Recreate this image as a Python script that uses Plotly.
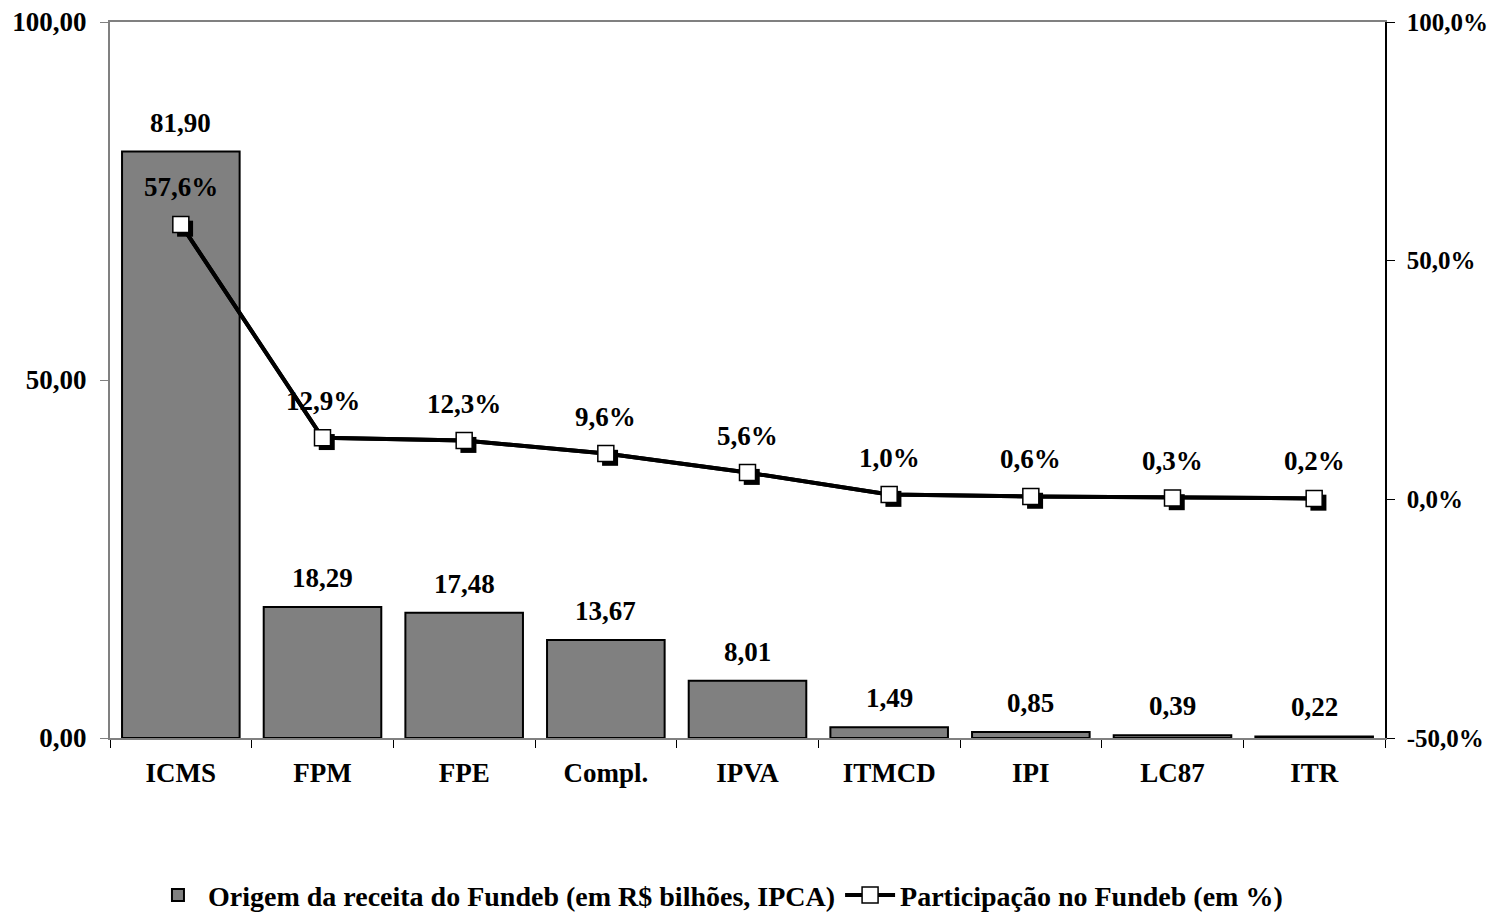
import plotly.graph_objects as go

categorias = ["ICMS", "FPM", "FPE", "Compl.", "IPVA", "ITMCD", "IPI", "LC87", "ITR"]
receita = [81.90, 18.29, 17.48, 13.67, 8.01, 1.49, 0.85, 0.39, 0.22]
participacao = [57.6, 12.9, 12.3, 9.6, 5.6, 1.0, 0.6, 0.3, 0.2]

y_left_ticks = [0, 50, 100]
y_left_text = ["0,00", "50,00", "100,00"]
y_right_ticks = [-50, 0, 50, 100]
y_right_text = ["-50,0%", "0,0%", "50,0%", "100,0%"]

FONT = "Liberation Serif"
FS = 27
pos = list(range(len(categorias)))


def br(v, nd):
    return f"{v:.{nd}f}".replace(".", ",")


fig = go.Figure()

fig.add_trace(go.Bar(
    x=pos, y=receita, width=0.83,
    name="Origem da receita do Fundeb (em R$ bilhões, IPCA)",
    marker=dict(color="#808080", line=dict(color="black", width=2)),
    hoverinfo="skip",
))

fig.add_trace(go.Scatter(
    x=pos, y=participacao, yaxis="y2", mode="lines",
    line=dict(color="black", width=4),
    showlegend=False, hoverinfo="skip",
))

# shadow of the markers
dx, dy = 0.03, 0.9
fig.add_trace(go.Scatter(
    x=[p + dx for p in pos], y=[v - dy for v in participacao], yaxis="y2",
    mode="markers",
    marker=dict(symbol="square", size=16, color="black", line=dict(width=0)),
    showlegend=False, hoverinfo="skip",
))

fig.add_trace(go.Scatter(
    x=pos, y=participacao, yaxis="y2", mode="lines+markers",
    name="Participação no Fundeb (em %)",
    line=dict(color="black", width=4),
    marker=dict(symbol="square", size=16, color="white",
                line=dict(color="black", width=1.5)),
    hoverinfo="skip",
))

annotations = []
for p, v in zip(pos, receita):
    annotations.append(dict(
        x=p, y=v, xref="x", yref="y", text=br(v, 2), showarrow=False,
        yanchor="middle", yshift=29,
        font=dict(family=FONT, size=FS, color="black", weight="bold"),
    ))
for p, v in zip(pos, participacao):
    annotations.append(dict(
        x=p, y=v, xref="x", yref="y2", text=br(v, 1) + "%", showarrow=False,
        yanchor="middle", yshift=37,
        font=dict(family=FONT, size=FS, color="black", weight="bold"),
    ))

tickfont = dict(family=FONT, size=FS, color="black", weight="bold")

# the page body adds an 8px margin at the top/left of the figure
fig.update_layout(
    width=1489, height=910,
    margin=dict(l=102, r=112, t=14, b=180),
    paper_bgcolor="white", plot_bgcolor="white",
    font=dict(family=FONT, size=FS, color="black", weight="bold"),
    xaxis=dict(
        range=[-0.5, 8.5], tickmode="array", tickvals=pos, ticktext=categorias,
        ticks="", showgrid=False, zeroline=False, automargin=False,
        showline=True, linecolor="#808080", linewidth=2, mirror=True,
        minor=dict(tickmode="linear", tick0=-0.5, dtick=1, ticks="outside",
                   ticklen=8, tickcolor="black", tickwidth=1),
        ticklabelstandoff=10,
        tickfont=tickfont,
    ),
    yaxis=dict(
        range=[0, 100], tickmode="array", tickvals=y_left_ticks, ticktext=y_left_text,
        ticks="outside", ticklen=8, tickcolor="#808080", tickwidth=1,
        showgrid=False, zeroline=False, automargin=False,
        showline=True, linecolor="#808080", linewidth=2,
        ticklabelstandoff=8, ticklabeloverflow="allow",
        tickfont=tickfont,
    ),
    yaxis2=dict(
        range=[-50, 100], overlaying="y", side="right",
        tickmode="array", tickvals=y_right_ticks, ticktext=y_right_text,
        ticks="outside", ticklen=8, tickcolor="black", tickwidth=1,
        showgrid=False, zeroline=False, automargin=False,
        showline=True, linecolor="black", linewidth=1.5,
        ticklabelstandoff=7, ticklabeloverflow="allow",
        tickfont=dict(family=FONT, size=25, color="black", weight="bold"),
    ),
    legend=dict(
        orientation="h", xref="container", yref="container",
        x=0.094, y=0.025, xanchor="left", yanchor="middle",
        font=dict(family=FONT, size=28, color="black", weight="bold"),
        itemwidth=50, tracegroupgap=0,
    ),
    annotations=annotations,
)

fig.write_html("out.html")
